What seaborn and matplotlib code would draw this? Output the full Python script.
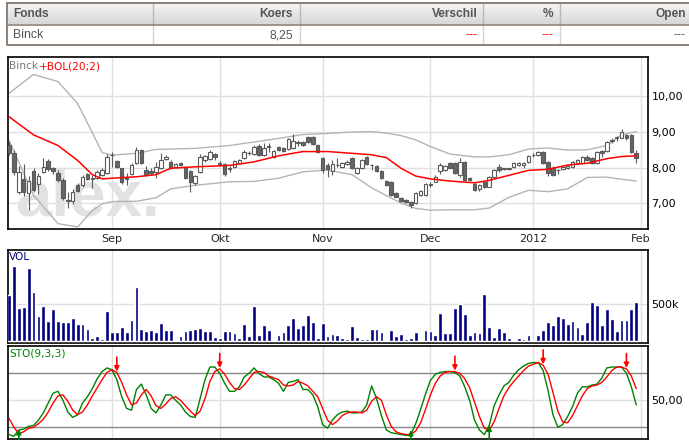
import numpy as np
import pandas as pd
import seaborn as sns
import matplotlib
matplotlib.use("Agg")
import matplotlib.pyplot as plt
from matplotlib.colors import LinearSegmentedColormap

# ---- data (Binck, Aug 2011 - Jan 2012) ----
opens = [8.63, 8.40, 7.32, 7.68, 7.28, 7.90, 7.53, 7.88, 8.18, 7.98,
         7.84, 7.65, 7.09, 7.06, 7.51, 7.51, 7.81, 7.69, 7.71, 7.80,
         7.84, 8.34, 8.18, 7.98, 7.69, 7.81, 8.12, 8.49, 7.93, 7.90,
         7.88, 8.00, 8.23, 8.16, 8.02, 8.14, 8.00, 7.90, 7.56, 7.88,
         8.20, 8.24, 8.37, 8.11, 8.09, 7.97, 8.02, 8.14, 8.26, 8.40,
         8.37, 8.61, 8.35, 8.58, 8.30, 8.58, 8.54, 8.52, 8.54, 8.70,
         8.73, 8.87, 8.87, 8.63, 8.26, 8.07, 7.90, 8.06, 8.02, 8.09,
         8.26, 7.84, 7.98, 8.30, 8.06, 8.05, 7.90, 7.62, 7.60, 7.27,
         7.15, 7.08, 7.04, 6.99, 7.23, 7.23, 7.52, 7.60, 7.90, 7.93,
         8.12, 8.12, 7.79, 8.16, 7.71, 7.55, 7.41, 7.60, 7.46, 7.74,
         8.02, 7.97, 7.97, 8.02, 8.06, 8.06, 8.16, 8.34, 8.35, 8.44,
         8.15, 8.00, 7.92, 7.95, 7.98, 8.02, 8.12, 8.12, 8.30, 8.26,
         8.12, 8.46, 8.46, 8.76, 8.83, 8.84, 8.92, 8.92, 8.40]
highs = [8.72, 8.48, 8.05, 8.10, 7.75, 7.98, 7.85, 8.26, 8.25, 8.02,
         7.92, 7.70, 7.32, 7.40, 7.56, 7.80, 7.85, 7.79, 7.92, 7.98,
         8.38, 8.44, 8.22, 8.00, 7.84, 8.12, 8.59, 8.52, 8.05, 8.00,
         8.16, 8.40, 8.35, 8.20, 8.12, 8.17, 8.03, 7.93, 7.80, 8.38,
         8.36, 8.50, 8.40, 8.18, 8.12, 8.03, 8.21, 8.24, 8.48, 8.47,
         8.63, 8.65, 8.68, 8.68, 8.49, 8.61, 8.57, 8.83, 8.94, 8.77,
         8.76, 8.90, 8.89, 8.66, 8.29, 8.12, 8.21, 8.27, 8.15, 8.20,
         8.29, 8.02, 8.24, 8.33, 8.09, 8.08, 7.93, 7.65, 7.63, 7.30,
         7.18, 7.12, 7.06, 7.30, 7.38, 7.56, 7.60, 7.78, 8.14, 8.08,
         8.15, 8.15, 8.27, 8.19, 7.74, 7.58, 7.54, 7.63, 7.77, 7.96,
         8.09, 8.00, 8.00, 8.16, 8.16, 8.16, 8.36, 8.40, 8.47, 8.47,
         8.18, 8.03, 7.97, 8.05, 8.07, 8.19, 8.24, 8.33, 8.36, 8.29,
         8.47, 8.49, 8.74, 8.82, 8.90, 9.08, 8.95, 8.94, 8.49]
lows = [8.36, 7.80, 7.25, 7.20, 6.80, 7.30, 7.26, 7.85, 7.90, 7.82,
        7.60, 7.10, 6.87, 6.98, 7.30, 7.45, 7.65, 7.42, 7.68, 7.76,
        7.82, 8.02, 7.98, 7.55, 7.51, 7.78, 8.10, 8.10, 7.75, 7.80,
        7.70, 7.96, 8.20, 7.96, 7.98, 8.04, 7.68, 7.32, 7.50, 7.86,
        8.17, 8.22, 8.20, 8.05, 7.76, 7.88, 8.00, 8.12, 8.24, 8.36,
        8.35, 8.33, 8.33, 8.45, 8.28, 8.47, 8.44, 8.50, 8.52, 8.62,
        8.60, 8.69, 8.64, 8.40, 7.85, 7.74, 7.79, 8.02, 8.00, 8.07,
        7.95, 7.82, 7.96, 8.06, 7.93, 7.88, 7.68, 7.49, 7.21, 7.16,
        7.04, 7.00, 6.86, 6.97, 7.20, 7.20, 7.46, 7.58, 7.83, 7.91,
        7.98, 7.82, 7.74, 7.62, 7.62, 7.35, 7.34, 7.42, 7.44, 7.72,
        7.88, 7.93, 7.93, 8.00, 8.04, 7.98, 8.14, 8.30, 8.33, 8.10,
        7.75, 7.76, 7.83, 7.93, 7.96, 8.00, 8.10, 8.10, 8.19, 8.10,
        8.10, 8.30, 8.44, 8.68, 8.76, 8.82, 8.78, 8.41, 8.14]
closes = [8.40, 7.88, 7.88, 7.32, 7.62, 7.37, 7.77, 8.02, 7.96, 7.90,
          7.65, 7.13, 7.07, 7.32, 7.34, 7.74, 7.68, 7.71, 7.88, 7.93,
          8.30, 8.36, 8.02, 7.60, 7.71, 8.07, 8.49, 8.14, 7.79, 7.84,
          8.02, 8.21, 8.30, 8.00, 8.09, 8.07, 7.71, 7.58, 7.77, 8.30,
          8.33, 8.44, 8.30, 8.13, 7.81, 7.99, 8.18, 8.21, 8.44, 8.42,
          8.59, 8.35, 8.54, 8.60, 8.46, 8.49, 8.46, 8.80, 8.75, 8.72,
          8.63, 8.71, 8.66, 8.43, 7.93, 7.96, 8.09, 8.08, 8.12, 8.16,
          7.98, 7.99, 8.21, 8.09, 8.08, 7.90, 7.70, 7.51, 7.23, 7.18,
          7.06, 7.04, 6.94, 7.27, 7.34, 7.53, 7.54, 7.74, 8.07, 8.05,
          8.00, 7.84, 8.16, 7.65, 7.65, 7.37, 7.51, 7.46, 7.74, 7.93,
          7.93, 7.99, 7.98, 8.13, 8.13, 8.13, 8.33, 8.36, 8.44, 8.12,
          7.84, 7.79, 7.94, 8.02, 8.04, 8.16, 8.21, 8.30, 8.21, 8.12,
          8.44, 8.40, 8.71, 8.78, 8.85, 8.99, 8.84, 8.43, 8.26]

# volume in thousands
volume = [623, 1023, 445, 459, 991, 664, 336, 473, 268, 432,
          268, 255, 255, 309, 227, 227, 159, 36, 64, 23,
          405, 118, 118, 186, 118, 282, 732, 159, 132, 145,
          118, 241, 145, 145, 9, 64, 132, 145, 159, 173,
          132, 132, 50, 36, 132, 132, 105, 36, 227, 64,
          473, 77, 214, 145, 9, 77, 118, 214, 309, 173,
          214, 350, 255, 36, 241, 64, 91, 77, 36, 23,
          200, 50, 23, 23, 159, 159, 118, 9, 145, 64,
          91, 23, 36, 118, 9, 145, 132, 77, 377, 105,
          105, 445, 500, 364, 77, 118, 105, 636, 186, 50,
          173, 118, 36, 0, 36, 23, 77, 0, 77, 145,
          255, 214, 336, 309, 227, 268, 186, 91, 255, 527,
          486, 214, 432, 295, 132, 282, 282, 432, 527]

# stochastic %K (green) and %D (red)
sto_k = [12, 10, 17, 18, 21, 22, 28, 36, 47, 58,
         60, 50, 37, 31, 34, 47, 54, 63, 74, 82,
         86, 84, 73, 54, 41, 39, 62, 68, 56, 41,
         36, 45, 56, 56, 50, 45, 37, 32, 31, 52,
         73, 87, 87, 80, 69, 60, 60, 65, 76, 80,
         86, 80, 76, 76, 73, 69, 60, 70, 71, 73,
         62, 62, 56, 43, 23, 19, 28, 34, 37, 38,
         36, 36, 37, 45, 66, 52, 33, 17, 14, 13,
         12, 11, 12, 24, 40, 57, 72, 79, 81, 82,
         82, 81, 77, 65, 50, 28, 17, 12, 22, 44,
         56, 66, 70, 78, 84, 88, 91, 92, 92, 83,
         61, 34, 20, 23, 32, 43, 58, 65, 65, 67,
         68, 75, 86, 87, 87, 87, 80, 65, 45]
sto_d = [30, 20, 13, 15, 19, 20, 24, 29, 37, 47,
         55, 56, 49, 39, 34, 37, 45, 55, 64, 73,
         81, 84, 81, 70, 56, 45, 47, 56, 62, 55,
         44, 41, 46, 52, 54, 50, 44, 38, 33, 38,
         52, 71, 82, 85, 79, 70, 63, 62, 67, 74,
         81, 82, 81, 77, 75, 73, 67, 66, 67, 71,
         69, 66, 60, 54, 41, 28, 23, 27, 33, 36,
         37, 37, 36, 39, 49, 54, 50, 34, 21, 15,
         13, 12, 12, 16, 25, 40, 56, 69, 77, 81,
         82, 82, 80, 74, 64, 48, 32, 19, 17, 26,
         41, 55, 64, 71, 77, 83, 88, 90, 92, 89,
         79, 59, 38, 26, 25, 33, 44, 55, 63, 66,
         67, 70, 76, 83, 87, 87, 85, 77, 63]
sell_days = [22, 43, 91, 109, 126]
buy_days = [2, 82, 98]

# Bollinger (20;2) read at a subset of days
bol_days = [0, 5, 10, 14, 17, 19, 21, 26, 30, 33, 38, 45, 50, 55, 60, 65, 70,
            74, 77, 80, 83, 86, 90, 95, 98, 102, 106, 110, 114, 118, 122, 125, 128]
bol_upper = [10.09, 10.62, 10.42, 9.80, 8.98, 8.42, 8.35, 8.40, 8.51, 8.52, 8.54,
             8.62, 8.72, 8.82, 8.93, 8.96, 9.00, 9.01, 8.97, 8.90, 8.78, 8.59,
             8.38, 8.30, 8.30, 8.36, 8.52, 8.55, 8.49, 8.50, 8.62, 8.92, 9.01]
bol_mid = [9.43, 8.92, 8.62, 8.20, 7.80, 7.68, 7.70, 7.74, 7.80, 7.98, 8.02,
           8.06, 8.16, 8.33, 8.45, 8.45, 8.40, 8.36, 8.28, 7.98, 7.76, 7.68,
           7.62, 7.57, 7.64, 7.78, 7.92, 7.95, 8.07, 8.12, 8.25, 8.31, 8.33]
bol_lower = [8.77, 7.22, 6.42, 6.33, 6.79, 6.98, 7.04, 7.05, 7.15, 7.40, 7.50,
             7.60, 7.61, 7.70, 7.88, 7.93, 7.80, 7.43, 7.21, 7.00, 6.85, 6.80,
             6.81, 6.81, 6.86, 7.16, 7.36, 7.32, 7.40, 7.72, 7.73, 7.67, 7.62]

month_labels = ["Sep", "Okt", "Nov", "Dec", "2012", "Feb"]
month_starts = ["2011-09-01", "2011-10-01", "2011-11-01", "2011-12-01", "2012-01-01", "2012-02-01"]

table_cols = ["Fonds", "Koers", "Verschil", "%", "Open"]
table_row = ["Binck", "8,25", "---", "---", "---"]

# trading days (Euronext closed on 26 Dec)
dates = pd.bdate_range("2011-08-03", "2012-01-31")
dates = dates[dates != pd.Timestamp("2011-12-26")]
days = np.arange(len(dates))
tick_pos = dates.searchsorted(pd.to_datetime(month_starts))

sns.set_style("white")
plt.rcParams["font.family"] = ["DejaVu Sans"]

W, H = 689, 446
fig = plt.figure(figsize=(W / 100, H / 100), dpi=100)


def px_axes(x0, y0, x1, y1):
    return fig.add_axes([x0 / W, 1 - y1 / H, (x1 - x0) / W, (y1 - y0) / H])


ax_p = px_axes(7.5, 56.7, 648, 229)
ax_v = px_axes(7.5, 249.7, 648, 342.7)
ax_s = px_axes(7.5, 345.7, 648, 439)

grid_c = "#e0e0e0"
for ax in (ax_p, ax_v, ax_s):
    ax.set_xlim(-0.31, 130.4)
    ax.set_xticks(tick_pos)
    ax.yaxis.tick_right()
    ax.grid(True, color=grid_c, lw=1)
    ax.set_axisbelow(True)
    ax.tick_params(axis="y", length=0, pad=2.5, labelsize=8, colors="black")
    for sp in ax.spines.values():
        sp.set_color("black")
        sp.set_linewidth(1.2)
    ax.set_xlabel("")
    ax.set_ylabel("")

# ---- price panel ----
o = np.array(opens)
c = np.array(closes)
up = c >= o
body_lo = np.minimum(o, c)
body_h = np.maximum(np.abs(c - o), 0.012)
ax_p.vlines(days, lows, highs, color="#5a5a5a", lw=0.8, zorder=3)
ax_p.bar(days, body_h, bottom=body_lo, width=0.72,
         color=np.where(up, "white", "#666666"), edgecolor="#5a5a5a", lw=0.8, zorder=4)

sns.lineplot(x=bol_days, y=bol_upper, ax=ax_p, color="#b4b4b4", lw=1, zorder=2)
sns.lineplot(x=bol_days, y=bol_lower, ax=ax_p, color="#b4b4b4", lw=1, zorder=2)
sns.lineplot(x=bol_days, y=bol_mid, ax=ax_p, color="red", lw=1.1, zorder=5)

# faint "alex." watermark
ax_p.text(1.2, 6.29, "alex.", fontsize=47, fontweight="bold", color="#e2e2e2",
          family=["Liberation Sans"], zorder=1, va="bottom", clip_on=True)

ax_p.set_ylim(6.27, 11.12)
ax_p.set_yticks([7, 8, 9, 10])
ax_p.set_yticklabels(["7,00", "8,00", "9,00", "10,00"])
ax_p.set_xticklabels(month_labels)
ax_p.tick_params(axis="x", length=2.2, color="#cccccc", pad=1.5, labelsize=8)

t1 = ax_p.text(0.003, 0.975, "Binck", transform=ax_p.transAxes, va="top", ha="left",
               color="#7a7a7a", fontsize=7.6, zorder=6)
ax_p.annotate("+BOL(20;2)", xy=(1, 0), xycoords=t1, va="bottom", ha="left",
              color="red", fontsize=7.6, zorder=6)

# ---- volume panel ----
ax_v.bar(days, volume, width=0.78, color="#000080", zorder=3)
ax_v.set_ylim(-27, 1240)
ax_v.set_yticks([500])
ax_v.set_yticklabels(["500k"])
ax_v.set_xticklabels([])
ax_v.tick_params(axis="x", length=0)
ax_v.text(0.003, 0.975, "VOL", transform=ax_v.transAxes, va="top", ha="left",
          color="#000080", fontsize=7.6, zorder=6)

# ---- stochastic panel ----
ax_s.axhline(80, color="#888888", lw=1, zorder=1)
ax_s.axhline(20, color="#888888", lw=1, zorder=1)
sns.lineplot(x=days, y=sto_k, ax=ax_s, color="#008000", lw=1, zorder=3)
sns.lineplot(x=days, y=sto_d, ax=ax_s, color="red", lw=1, zorder=4)
for d in sell_days:
    ax_s.annotate("", xy=(d, sto_d[d] + 1), xytext=(d, sto_d[d] + 17),
                  arrowprops=dict(arrowstyle="-|>", color="red", lw=1.2,
                                  mutation_scale=7, shrinkA=0, shrinkB=0), zorder=6)
for d in buy_days:
    ax_s.annotate("", xy=(d, sto_d[d] + 5), xytext=(d, 7),
                  arrowprops=dict(arrowstyle="-|>", color="#008000", lw=1.2,
                                  mutation_scale=7, shrinkA=0, shrinkB=0), zorder=6)
ax_s.set_ylim(7, 110.7)
ax_s.set_yticks([50])
ax_s.set_yticklabels(["50,00"])
ax_s.set_xticklabels([])
ax_s.tick_params(axis="x", length=0)
ax_s.text(0.003, 0.975, "STO(9,3,3)", transform=ax_s.transAxes, va="top", ha="left",
          color="#008000", fontsize=7.6, zorder=6)

# ---- quote table on top ----
ax_t = fig.add_axes([0, 1 - 50 / H, 1, 50 / H])
ax_t.axis("off")
grad = LinearSegmentedColormap.from_list("hdr", ["#f6f6f6", "#d8d8d8"])
ax_t.imshow(np.linspace(0, 1, 30).reshape(-1, 1), cmap=grad, aspect="auto",
            extent=[6.5, 700, 24.5, 3], origin="upper", zorder=1)
ax_t.set_xlim(0, W)
ax_t.set_ylim(50, 0)
border = "#8c8079"
col_edges = [6.5, 153, 300, 483, 560]
for xe in col_edges[1:]:
    ax_t.plot([xe, xe], [3, 24.5], color="#b8b8b8", lw=1, zorder=2)
    ax_t.plot([xe, xe], [24.5, 45], color="#d4d4d4", lw=1, zorder=2)
ax_t.plot([6.5, 700, 700, 6.5, 6.5], [3, 3, 45, 45, 3], color=border, lw=1.4, zorder=3)
ax_t.plot([6.5, 700], [24.5, 24.5], color=border, lw=1.2, zorder=3)

text_x = [13, 293, 478, 553, 686]
aligns = ["left", "right", "right", "right", "right"]
row_colors = ["#555555", "#555555", "red", "red", "#555555"]
for txt, xx, al in zip(table_cols, text_x, aligns):
    ax_t.text(xx, 14, txt, ha=al, va="center", fontsize=8.6, fontweight="bold",
              color="#555555", family=["Liberation Sans", "DejaVu Sans"], zorder=4)
for txt, xx, al, col in zip(table_row, text_x, aligns, row_colors):
    ax_t.text(xx, 35, txt, ha=al, va="center", fontsize=8.8,
              color=col, family=["Liberation Sans", "DejaVu Sans"], zorder=4)

fig.savefig("out.png", dpi=100, facecolor="white")
